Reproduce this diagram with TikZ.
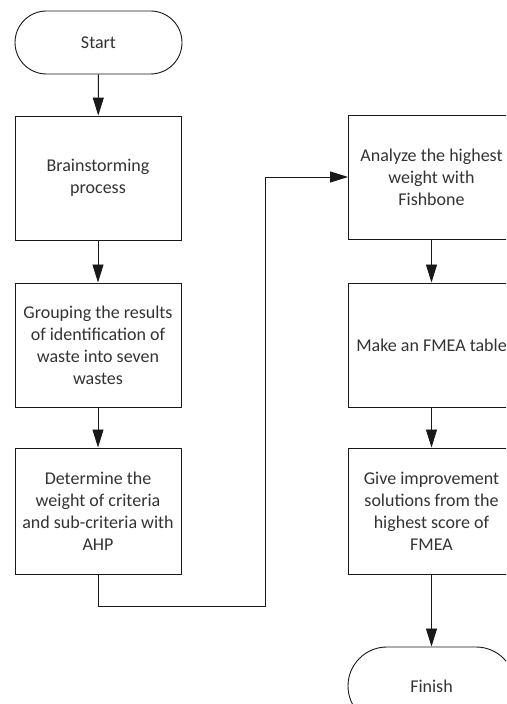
\documentclass[tikz,border=0pt]{standalone}
\usepackage{fontspec}
\setmainfont{Carlito}
\usetikzlibrary{arrows.meta}
\begin{document}
\begin{tikzpicture}[x=1pt,y=1pt,
  every node/.style={font=\fontsize{18}{22}\selectfont, text=black!80, align=center},
  procbox/.style={draw=black!90, line width=0.9pt, minimum width=166, minimum height=124, inner sep=0pt},
  termbox/.style={draw=black!90, line width=0.9pt, minimum width=167, inner sep=0pt},
  arr/.style={draw=black!90, line width=0.9pt, -{Triangle[length=18pt,width=11pt]}}
]
\useasboundingbox (0,0) rectangle (506,704);
\clip (0,0) rectangle (506,704);
\node[termbox, minimum height=63, rounded corners=31.5] (start) at (98.5,661.5) {Start};
\node[procbox] (brain) at (98,526) {Brainstorming\\process};
\node[procbox] (group) at (98,359) {Grouping the results\\of identification of\\waste into seven\\wastes};
\node[procbox, minimum height=126] (determ) at (98,193) {Determine the\\weight of criteria\\and sub-criteria with\\AHP};
\node[procbox] (analyze) at (431.5,527) {Analyze the highest\\weight with\\Fishbone};
\node[procbox] (fmea) at (431.5,359) {Make an FMEA table};
\node[procbox, minimum height=126] (give) at (431.5,193) {Give improvement\\solutions from the\\highest score of\\FMEA};
\node[termbox, minimum height=78, rounded corners=39] (finish) at (431.5,18) {Finish};
\coordinate (c1) at (265,98);
\draw[arr] (start) -- (brain);
\draw[arr] (brain) -- (group);
\draw[arr] (group) -- (determ);
\draw[arr] (determ.south) |- (c1) |- (analyze.west);
\draw[arr] (analyze) -- (fmea);
\draw[arr] (fmea) -- (give);
\draw[arr] (give) -- (finish);
\end{tikzpicture}
\end{document}
